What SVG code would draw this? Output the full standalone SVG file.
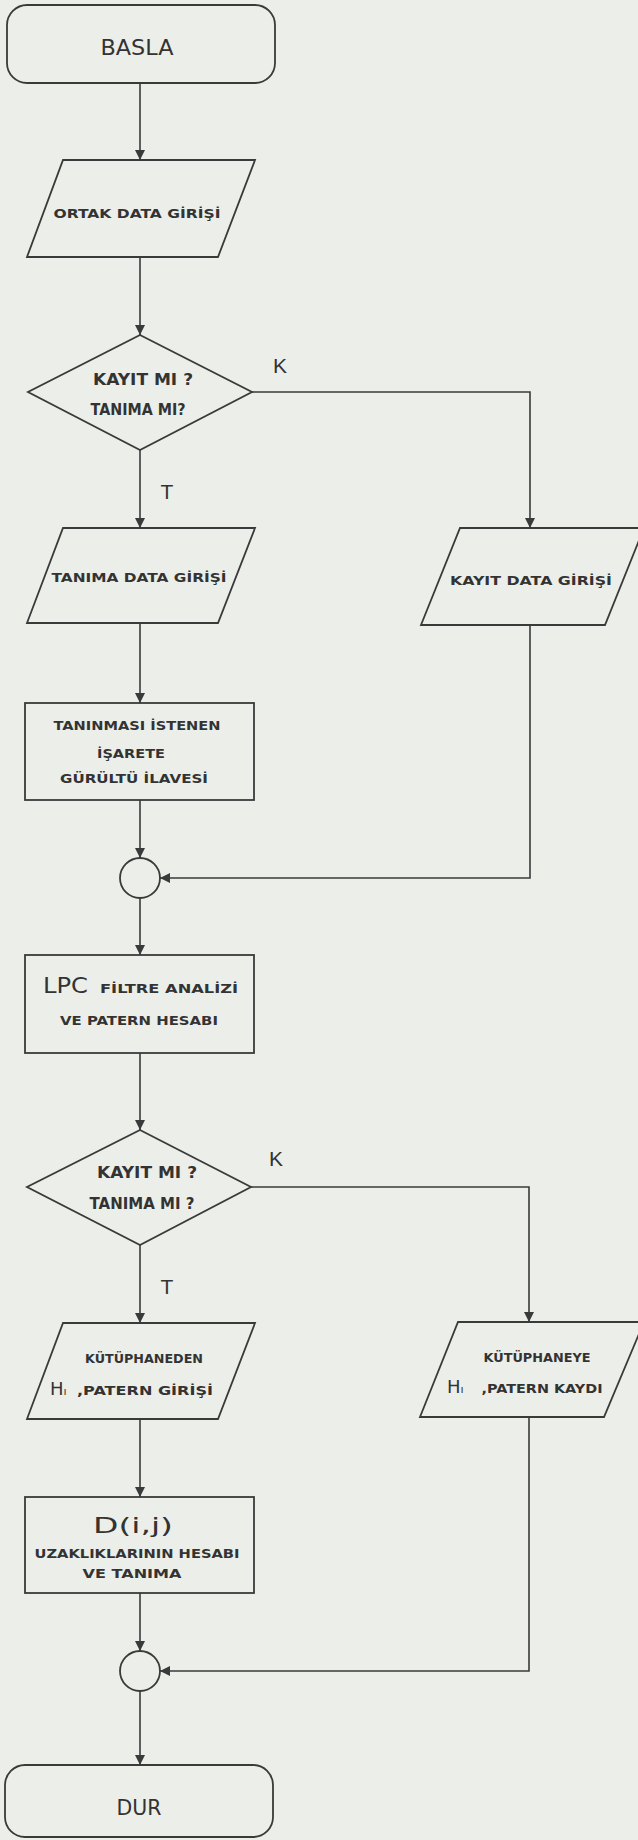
<svg xmlns="http://www.w3.org/2000/svg" width="638" height="1840" viewBox="0 0 638 1840">
<style>
.bg{fill:#eceeea}
.sh{fill:none;stroke:#3a3a3a;stroke-width:1.8;stroke-linejoin:miter}
.ln{fill:none;stroke:#3a3a3a;stroke-width:1.6}
.t{font-family:"DejaVu Sans","Liberation Sans",sans-serif;font-weight:bold;fill:#333;text-anchor:middle}
.big{font-size:22px;font-weight:normal}
.s{font-size:13px}
.m{font-size:15px}
.b{font-family:"DejaVu Sans","Liberation Sans",sans-serif;font-weight:normal;fill:#333}
.lab{font-family:"Liberation Sans",sans-serif;font-size:21px;fill:#333;text-anchor:middle}
</style>
<defs>
<marker id="ah" markerUnits="userSpaceOnUse" markerWidth="10" markerHeight="14" viewBox="0 0 10 14" refX="10" refY="7" orient="auto">
<path d="M0,2 L10,7 L0,12 Z" fill="#3a3a3a"/>
</marker>
</defs>
<rect class="bg" x="0" y="0" width="638" height="1840"/>

<g id="connectors">
<line class="ln" x1="140" y1="83" x2="140" y2="160" marker-end="url(#ah)"/>
<line class="ln" x1="140" y1="257" x2="140" y2="335" marker-end="url(#ah)"/>
<line class="ln" x1="140" y1="450" x2="140" y2="528" marker-end="url(#ah)"/>
<polyline class="ln" points="252,392 530,392 530,528" marker-end="url(#ah)"/>
<line class="ln" x1="140" y1="623" x2="140" y2="703" marker-end="url(#ah)"/>
<line class="ln" x1="140" y1="800" x2="140" y2="858" marker-end="url(#ah)"/>
<polyline class="ln" points="530,625 530,878 160,878" marker-end="url(#ah)"/>
<line class="ln" x1="140" y1="898" x2="140" y2="955" marker-end="url(#ah)"/>
<line class="ln" x1="140" y1="1053" x2="140" y2="1130" marker-end="url(#ah)"/>
<line class="ln" x1="140" y1="1245" x2="140" y2="1323" marker-end="url(#ah)"/>
<polyline class="ln" points="251,1187 529,1187 529,1322" marker-end="url(#ah)"/>
<line class="ln" x1="140" y1="1419" x2="140" y2="1497" marker-end="url(#ah)"/>
<line class="ln" x1="140" y1="1593" x2="140" y2="1651" marker-end="url(#ah)"/>
<polyline class="ln" points="529,1417 529,1671 160,1671" marker-end="url(#ah)"/>
<line class="ln" x1="140" y1="1691" x2="140" y2="1765" marker-end="url(#ah)"/>
<text class="lab" x="280" y="373">K</text>
<text class="lab" x="167" y="499">T</text>
<text class="lab" x="276" y="1166">K</text>
<text class="lab" x="167" y="1294">T</text>
</g>

<g id="basla">
<rect class="sh" x="7" y="5" width="268" height="78" rx="20"/>
<text class="t big" x="137" y="55" textLength="73" lengthAdjust="spacingAndGlyphs">BASLA</text>
</g>

<g id="ortak">
<polygon class="sh" points="63,160 255,160 218,257 27,257"/>
<text class="t s" x="137" y="218" textLength="167" lengthAdjust="spacingAndGlyphs">ORTAK DATA GİRİŞİ</text>
</g>

<g id="karar1">
<polygon class="sh" points="140,335 252,392 140,450 28,392"/>
<text class="t m" x="143" y="385" textLength="100" lengthAdjust="spacingAndGlyphs">KAYIT MI ?</text>
<text class="t m" x="138" y="415" textLength="95" lengthAdjust="spacingAndGlyphs">TANIMA MI?</text>
</g>

<g id="tanima-data">
<polygon class="sh" points="63,528 255,528 218,623 27,623"/>
<text class="t s" x="139" y="582" textLength="175" lengthAdjust="spacingAndGlyphs">TANIMA DATA GİRİŞİ</text>
</g>

<g id="kayit-data">
<polygon class="sh" points="460,528 644,528 605,625 421,625"/>
<text class="t s" x="531" y="585" textLength="162" lengthAdjust="spacingAndGlyphs">KAYIT DATA GİRİŞİ</text>
</g>

<g id="gurultu">
<rect class="sh" x="25" y="703" width="229" height="97"/>
<text class="t s" x="137" y="730" textLength="167" lengthAdjust="spacingAndGlyphs">TANINMASI İSTENEN</text>
<text class="t s" x="131" y="758" textLength="68" lengthAdjust="spacingAndGlyphs">İŞARETE</text>
<text class="t s" x="134" y="783" textLength="148" lengthAdjust="spacingAndGlyphs">GÜRÜLTÜ İLAVESİ</text>
</g>

<g id="birlesme1">
<circle class="sh" cx="140" cy="878" r="20"/>
</g>

<g id="lpc">
<rect class="sh" x="25" y="955" width="229" height="98"/>
<text class="b" x="43" y="993" font-size="21" textLength="45" lengthAdjust="spacingAndGlyphs">LPC</text>
<text class="t s" x="169" y="993" textLength="138" lengthAdjust="spacingAndGlyphs">FİLTRE ANALİZİ</text>
<text class="t s" x="139" y="1025" textLength="158" lengthAdjust="spacingAndGlyphs">VE PATERN HESABI</text>
</g>

<g id="karar2">
<polygon class="sh" points="140,1130 251,1187 140,1245 27,1187"/>
<text class="t m" x="147" y="1178" textLength="100" lengthAdjust="spacingAndGlyphs">KAYIT MI ?</text>
<text class="t m" x="142" y="1209" textLength="105" lengthAdjust="spacingAndGlyphs">TANIMA MI ?</text>
</g>

<g id="kutuphaneden">
<polygon class="sh" points="63,1323 255,1323 218,1419 27,1419"/>
<text class="t s" x="144" y="1363" textLength="118" lengthAdjust="spacingAndGlyphs">KÜTÜPHANEDEN</text>
<text class="b" x="50" y="1395" font-size="18">H<tspan font-size="11">ı</tspan></text>
<text class="t s" x="145" y="1395" textLength="136" lengthAdjust="spacingAndGlyphs">,PATERN GİRİŞİ</text>
</g>

<g id="kutuphaneye">
<polygon class="sh" points="458,1322 644,1322 604,1417 420,1417"/>
<text class="t s" x="537" y="1362" textLength="107" lengthAdjust="spacingAndGlyphs">KÜTÜPHANEYE</text>
<text class="b" x="447" y="1393" font-size="18">H<tspan font-size="11">ı</tspan></text>
<text class="t s" x="542" y="1393" textLength="121" lengthAdjust="spacingAndGlyphs">,PATERN KAYDI</text>
</g>

<g id="uzaklik">
<rect class="sh" x="25" y="1497" width="229" height="96"/>
<text class="t big" x="133" y="1533" textLength="80" lengthAdjust="spacingAndGlyphs">D(i,j)</text>
<text class="t s" x="137" y="1558" textLength="205" lengthAdjust="spacingAndGlyphs">UZAKLIKLARININ HESABI</text>
<text class="t s" x="132" y="1578" textLength="99" lengthAdjust="spacingAndGlyphs">VE TANIMA</text>
</g>

<g id="birlesme2">
<circle class="sh" cx="140" cy="1671" r="20"/>
</g>

<g id="dur">
<rect class="sh" x="5" y="1765" width="268" height="72" rx="20"/>
<text class="t big" x="139" y="1815" textLength="45" lengthAdjust="spacingAndGlyphs">DUR</text>
</g>
</svg>
